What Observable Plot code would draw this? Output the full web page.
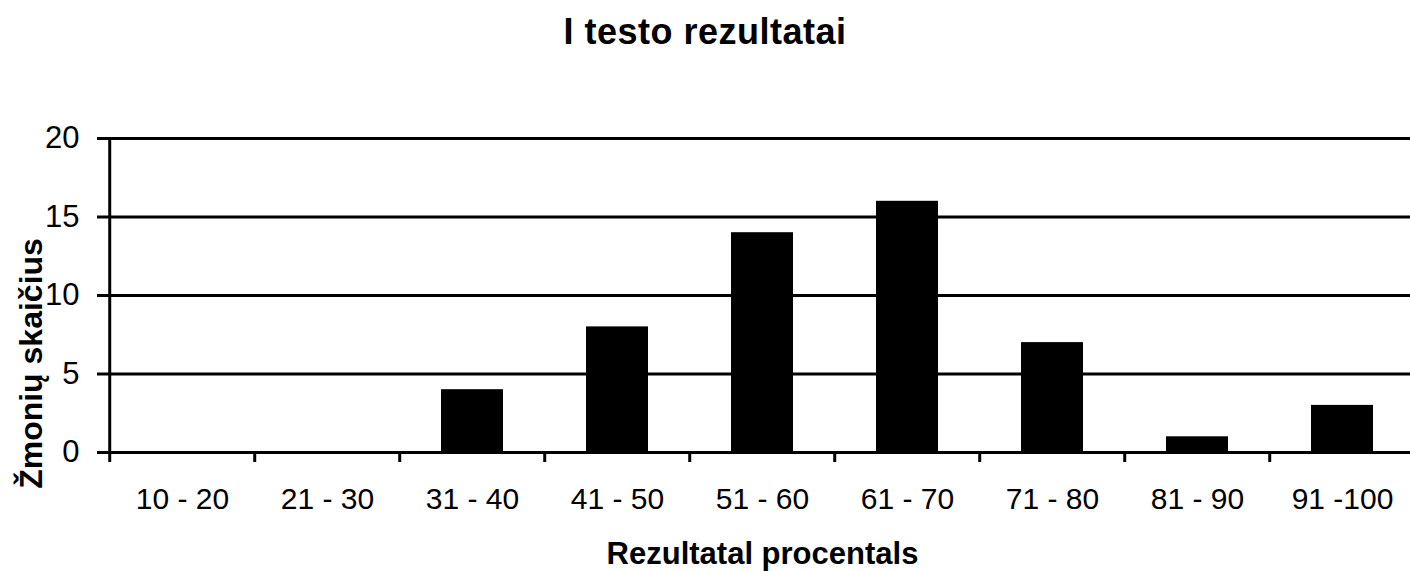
<!DOCTYPE html>
<html>
<head>
<meta charset="utf-8">
<script src="https://cdn.jsdelivr.net/npm/d3@7"></script>
<script src="https://cdn.jsdelivr.net/npm/@observablehq/plot@0.6"></script>
<style>
  html, body { margin: 0; padding: 0; background: white; }
  body { width: 1410px; height: 571px; overflow: hidden; font-family: "Liberation Sans", Arial, sans-serif; }
  #title { height: 60px; box-sizing: border-box; padding-top: 13.5px; line-height: 36px; font-size: 36px; font-weight: bold; text-align: center; letter-spacing: 0.5px; color: black; }
</style>
</head>
<body>
<div id="title"></div>
<div id="chart"></div>
<script>
const chartTitle = "I testo rezultatai";
const xTitle = "Rezultatal procentals";
const yTitle = "Žmonių skaičius";
const categories = ["10 - 20", "21 - 30", "31 - 40", "41 - 50", "51 - 60", "61 - 70", "71 - 80", "81 - 90", "91 -100"];
const counts = [0, 0, 4, 8, 14, 16, 7, 1, 3];
const yTicks = [0, 5, 10, 15, 20];

document.getElementById("title").textContent = chartTitle;

const data = categories.map((c, i) => ({cat: c, n: counts[i]}));

const width = 1410, height = 511;
const marginLeft = 107, marginRight = -7, marginTop = 78, marginBottom = 119;
const step = (width - marginRight - marginLeft) / categories.length;
const lw = 3;

const plot = Plot.plot({
  width, height, marginLeft, marginRight, marginTop, marginBottom,
  style: {fontFamily: "'Liberation Sans', Arial, sans-serif", fontSize: "30px", background: "white", color: "black"},
  x: {type: "band", domain: categories, paddingInner: 0.575, paddingOuter: 0.2875},
  y: {domain: [0, 20]},
  marks: [
    Plot.ruleY(yTicks, {stroke: "black", strokeWidth: lw}),
    Plot.barY(data, {x: "cat", y: "n", fill: "black"}),
    Plot.ruleX([categories[0]], {x: d => d, dx: -step / 2, stroke: "black", strokeWidth: lw}),
    Plot.axisY({ticks: yTicks, tickSize: 10, tickPadding: 18, fontSize: 31, strokeWidth: lw, label: null}),
    Plot.axisX({tickSize: 10, dx: -step / 2, tickFormat: () => "", strokeWidth: lw, label: null}),
    Plot.axisX({tickSize: 0, tickPadding: 35, fontSize: 30, label: null}),
    Plot.text([xTitle], {frameAnchor: "bottom", textAnchor: "middle", lineAnchor: "middle", dy: 102, fontSize: 31, fontWeight: "bold", fill: "black"}),
    Plot.text([yTitle], {frameAnchor: "left", textAnchor: "middle", lineAnchor: "middle", rotate: -90, dx: -76, dy: 68, fontSize: 32, fontWeight: "bold", fill: "black"})
  ]
});
document.getElementById("chart").appendChild(plot);
</script>
</body>
</html>
